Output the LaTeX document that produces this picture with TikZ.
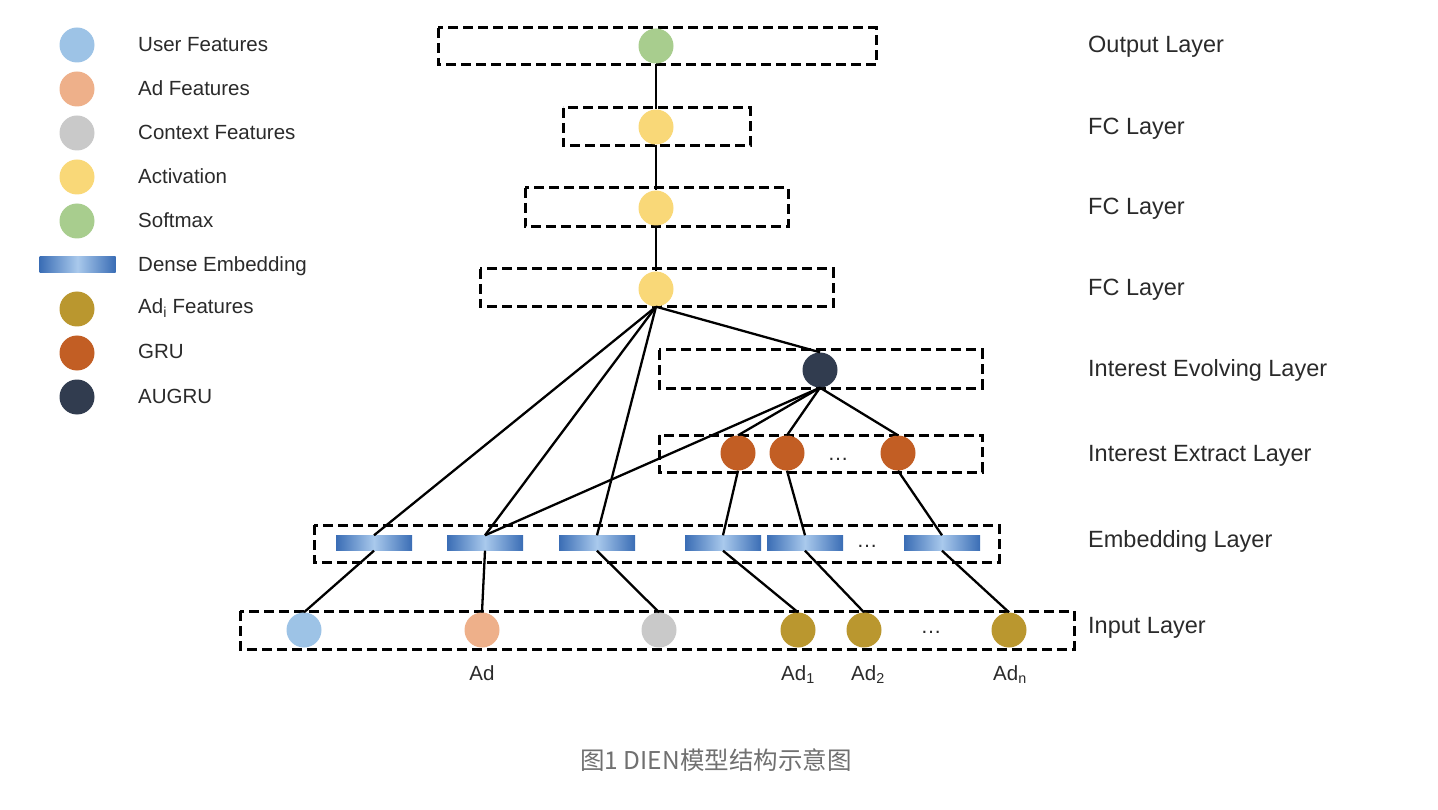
\documentclass[tikz,border=0pt]{standalone}
\usepackage{fontspec}
\setmainfont{Liberation Sans}
\newfontfamily\cjkfont{Noto Sans CJK SC}
\definecolor{userblue}{HTML}{9DC3E6}
\definecolor{adpeach}{HTML}{EEB08A}
\definecolor{ctxgray}{HTML}{C9C9C9}
\definecolor{actyellow}{HTML}{F9D878}
\definecolor{softgreen}{HTML}{A8CD8E}
\definecolor{adigold}{HTML}{BA972F}
\definecolor{grubrown}{HTML}{C25E24}
\definecolor{augnavy}{HTML}{313C4F}
\definecolor{barDark}{HTML}{3A6DB5}
\definecolor{barLight}{HTML}{A9C9EC}
\definecolor{captiongray}{HTML}{707070}
\definecolor{txt}{HTML}{2A2A2A}
\pgfdeclarelayer{bg}
\pgfsetlayers{bg,main}
\begin{document}
\begin{tikzpicture}[x=1pt,y=-1pt,
  dot/.style={circle, inner sep=0pt, minimum size=35pt, draw=none},
  userc/.style={dot, fill=userblue},
  adc/.style={dot, fill=adpeach},
  ctxc/.style={dot, fill=ctxgray},
  actc/.style={dot, fill=actyellow},
  softc/.style={dot, fill=softgreen},
  adic/.style={dot, fill=adigold},
  gruc/.style={dot, fill=grubrown},
  augc/.style={dot, fill=augnavy},
  embbar/.style={rectangle, inner sep=0pt, minimum width=76pt, minimum height=15pt, draw=none,
     left color=barDark, right color=barDark, middle color=barLight},
  layerbox/.style={draw=black, line width=3pt, dash pattern=on 10pt off 5pt},
  conn/.style={draw=black, line width=2.3pt},
  lbl/.style={anchor=base west, inner sep=0pt, text=txt, font=\fontsize{23.5}{28}\selectfont},
  leg/.style={anchor=base west, inner sep=0pt, text=txt, font=\fontsize{20.5}{24}\selectfont},
  sublbl/.style={anchor=base, inner sep=0pt, text=txt, font=\fontsize{20.5}{24}\selectfont},
  ell/.style={anchor=base, inner sep=0pt, text=txt, font=\fontsize{21}{24}\selectfont}
]
\useasboundingbox (0,0) rectangle (1438,810);

% ---------- legend ----------
\node[userc] (lg1) at (77,45) {};
\node[adc]   (lg2) at (77,89) {};
\node[ctxc]  (lg3) at (77,133) {};
\node[actc]  (lg4) at (77,177) {};
\node[softc] (lg5) at (77,221) {};
\node[embbar, minimum height=16pt] (lg6) at (77.5,265) {};
\node[adic]  (lg7) at (77,309) {};
\node[gruc]  (lg8) at (77,353) {};
\node[augc]  (lg9) at (77,397) {};
\node[leg] (lt1) at (138,52) {User Features};
\node[leg] (lt2) at (138,96) {Ad Features};
\node[leg] (lt3) at (138,140) {Context Features};
\node[leg] (lt4) at (138,184) {Activation};
\node[leg] (lt5) at (138,228) {Softmax};
\node[leg] (lt6) at (138,272) {Dense Embedding};
\node[leg] (lt7) at (138,314) {Ad\textsubscript{i} Features};
\node[leg] (lt8) at (138,359) {GRU};
\node[leg] (lt9) at (138,403) {AUGRU};

% ---------- network nodes ----------
\node[softc] (out) at (656,46) {};
\node[actc] (fc1) at (656,127) {};
\node[actc] (fc2) at (656,208) {};
\node[actc] (fc3) at (656,289) {};
\node[augc] (aug) at (820,370) {};
\node[gruc] (gru1) at (738,453) {};
\node[gruc] (gru2) at (787,453) {};
\node[gruc] (gru3) at (898,453) {};
\node[embbar] (bar1) at (374,543) {};
\node[embbar] (bar2) at (485,543) {};
\node[embbar] (bar3) at (597,543) {};
\node[embbar] (bar4) at (723,543) {};
\node[embbar] (bar5) at (805,543) {};
\node[embbar] (bar6) at (942,543) {};
\node[userc] (inu) at (304,630) {};
\node[adc] (inad) at (482,630) {};
\node[ctxc] (inctx) at (659,630) {};
\node[adic] (ina1) at (798,630) {};
\node[adic] (ina2) at (864,630) {};
\node[adic] (inan) at (1009,630) {};

\node[ell] (dots1) at (838,460.5) {…};
\node[ell] (dots2) at (867,547.5) {…};
\node[ell] (dots3) at (931,633.5) {…};

% ---------- layer frames ----------
\begin{pgfonlayer}{bg}
\draw[layerbox] (438,28) rectangle (876,65);
\draw[layerbox] (563,108) rectangle (750,146);
\draw[layerbox] (525,188) rectangle (788,227);
\draw[layerbox] (480,269) rectangle (833,307);
\draw[layerbox] (659,350) rectangle (982,388);
\draw[layerbox] (659,435) rectangle (982,472);
\draw[layerbox] (314,525) rectangle (999,562);
\draw[layerbox] (240,611) rectangle (1074,649);
\end{pgfonlayer}

% ---------- connectors ----------
\draw[conn] (out.south) -- (fc1.north);
\draw[conn] (fc1.south) -- (fc2.north);
\draw[conn] (fc2.south) -- (fc3.north);
\draw[conn] (fc3.south) -- (bar1.north);
\draw[conn] (fc3.south) -- (bar2.north);
\draw[conn] (fc3.south) -- (bar3.north);
\draw[conn] (fc3.south) -- (aug.north);
\draw[conn] (aug.south) -- (gru1.north);
\draw[conn] (aug.south) -- (gru2.north);
\draw[conn] (aug.south) -- (gru3.north);
\draw[conn] (aug.south) -- (bar2.north);
\draw[conn] (gru1.south) -- (bar4.north);
\draw[conn] (gru2.south) -- (bar5.north);
\draw[conn] (gru3.south) -- (bar6.north);
\draw[conn] (bar1.south) -- (inu.north);
\draw[conn] (bar2.south) -- (inad.north);
\draw[conn] (bar3.south) -- (inctx.north);
\draw[conn] (bar4.south) -- (ina1.north);
\draw[conn] (bar5.south) -- (ina2.north);
\draw[conn] (bar6.south) -- (inan.north);

% ---------- input labels ----------
\node[sublbl] (la) at (482,680) {Ad};
\node[sublbl] (la1) at (798,680) {Ad\textsubscript{1}};
\node[sublbl] (la2) at (868,680) {Ad\textsubscript{2}};
\node[sublbl] (lan) at (1010,680) {Ad\textsubscript{n}};

% ---------- layer names ----------
\node[lbl] (n1) at (1088,53) {Output Layer};
\node[lbl] (n2) at (1088,135) {FC Layer};
\node[lbl] (n3) at (1088,215) {FC Layer};
\node[lbl] (n4) at (1088,296) {FC Layer};
\node[lbl] (n5) at (1088,377) {Interest Evolving Layer};
\node[lbl] (n6) at (1088,461) {Interest Extract Layer};
\node[lbl] (n7) at (1088,547) {Embedding Layer};
\node[lbl] (n8) at (1088,633) {Input Layer};

% ---------- caption ----------
\node[anchor=base, inner sep=0pt, text=captiongray, font=\cjkfont\fontsize{24.5}{28}\selectfont] (cap) at (716,769) {图1 DIEN模型结构示意图};
\end{tikzpicture}
\end{document}
